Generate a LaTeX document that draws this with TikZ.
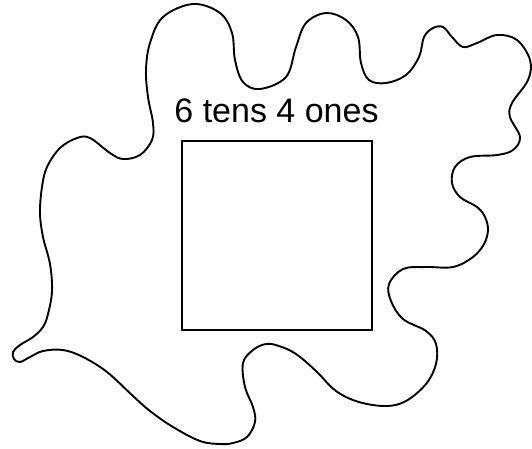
\documentclass[tikz,border=0pt]{standalone}
\usepackage{fontspec}
\setmainfont{Liberation Sans}
\begin{document}
\begin{tikzpicture}[x=1pt,y=-1pt,
  outline/.style={draw=black,line width=1.9pt,line join=round},
  label/.style={font=\fontsize{34}{36}\selectfont,inner sep=0pt,anchor=base}]
\useasboundingbox (0,0) rectangle (532,448);
\draw[outline] plot[smooth cycle,tension=0.6] coordinates {
 (90,138) (110,153) (123,159) (140,155) (152,140) (153,123)
 (148,97) (146,70) (150,43) (163,17) (193,4) (220,13) (232,33) (235,60)
 (243,82) (260,89) (286,77) (296,47) (306,23) (326,13) (346,20) (358,37)
 (361,63) (369,80) (386,83) (406,75) (419,57) (424,37) (433,28) (443,27)
 (452,37) (463,47) (477,43) (497,35) (517,40) (530,60) (528,80) (512,103)
 (510,117) (520,137) (513,150) (497,155) (470,157) (455,167) (452,183)
 (460,197) (477,207) (485,217) (488,230) (484,244) (473,257) (453,267)
 (426,267) (403,269) (389,284) (391,301) (403,319) (426,331) (436,344)
 (436,364) (426,384) (406,401) (386,406) (359,402) (336,391) (316,371)
 (296,354) (279,346) (266,344) (253,350) (243,363) (245,387) (253,407)
 (255,422) (247,437) (233,443) (220,444) (200,441) (173,427) (150,411)
 (133,396) (107,372) (83,357) (63,350) (43,351) (30,357)
 (20,362) (14,359) (13,352) (20,345) (33,337) (43,327) (48,314)
 (52,291) (50,264) (43,237) (40,213) (42,187) (47,167) (60,148) (77,138)
};
\node (box) [draw=black,line width=1.8pt,minimum width=190pt,minimum height=189pt,inner sep=0pt] at (277,235.5) {};
\node (lbl) [label] at (276.5,122) {6 tens 4 ones};
\end{tikzpicture}
\end{document}
